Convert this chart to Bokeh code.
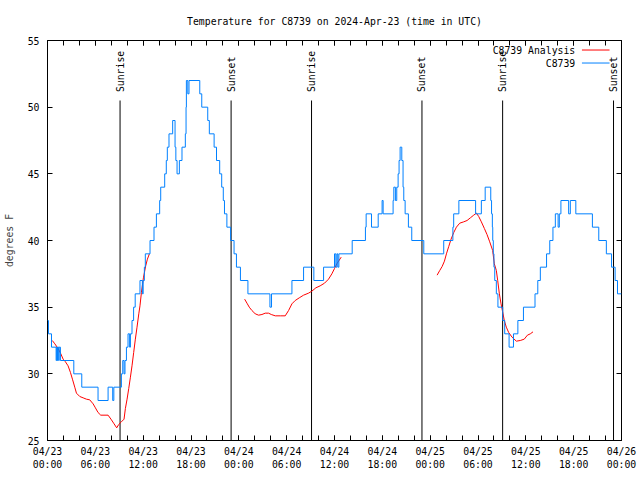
import math
from bokeh.plotting import figure
from bokeh.models import Range1d, FixedTicker, LinearAxis, Label, Arrow, CustomLabelingPolicy
from bokeh.core.properties import value
from bokeh.embed import file_html
from bokeh.resources import INLINE

TITLE = "Temperature for C8739 on 2024-Apr-23 (time in UTC)"
Y_LABEL = "degrees F"
FONT = "DejaVu Sans Mono"
FS = "9.8px"

# hours since 2024-04-23 00:00 UTC
x_ticks = [0, 6, 12, 18, 24, 30, 36, 42, 48, 54, 60, 66, 72]
x_tick_labels = ["04/23\n00:00", "04/23\n06:00", "04/23\n12:00", "04/23\n18:00",
                 "04/24\n00:00", "04/24\n06:00", "04/24\n12:00", "04/24\n18:00",
                 "04/25\n00:00", "04/25\n06:00", "04/25\n12:00", "04/25\n18:00",
                 "04/26\n00:00"]
x_minor_ticks = list(range(0, 73, 2))
y_ticks = [25, 30, 35, 40, 45, 50, 55]

sun_hours = [9.10, 23.03, 33.12, 46.97, 57.09, 71.00]
sun_labels = ["Sunrise", "Sunset", "Sunrise", "Sunset", "Sunrise", "Sunset"]

# C8739 observations (value holds from each time until the next)
obs_hours = [0.0, 0.12, 0.5, 1.08, 1.15, 1.25, 1.3, 1.41, 1.46, 1.62, 3.3, 4.3, 6.34, 7.6,
             8.18, 8.32, 9.27, 9.44, 9.6, 9.72, 9.9, 10.1, 10.3, 10.4, 10.6, 10.8, 11.0,
             11.6, 11.9, 12.0, 12.15, 12.27, 12.86, 13.36, 13.66, 14.07, 14.2, 14.7, 14.9,
             15.03, 15.24, 15.7, 16.0, 16.1, 16.25, 16.54, 16.87, 17.29, 17.38, 17.42, 17.6,
             17.75, 19.1, 19.35, 20.1, 20.3, 20.9, 21.2, 21.6, 21.85, 22.05, 22.2, 22.5,
             22.97, 23.4, 23.7, 24.2, 25.14, 27.9, 28.1, 30.66, 32.12, 33.41, 34.63, 36.0,
             36.17, 36.3, 36.42, 36.55, 38.22, 39.88, 39.97, 40.64, 41.48, 41.97, 42.1,
             43.35, 43.44, 43.64, 43.81, 43.98, 44.1, 44.23, 44.44, 44.6, 44.69, 44.86,
             45.27, 45.69, 47.2, 49.7, 50.85, 50.95, 51.6, 53.7, 54.42, 54.9, 55.6, 55.7,
             55.8, 55.85, 55.92, 56.0, 56.1, 56.3, 56.5, 57.1, 57.35, 57.9, 58.45, 59.0,
             59.7, 61.15, 61.5, 61.82, 62.6, 63.0, 63.4, 63.7, 64.05, 64.2, 64.4, 65.37,
             65.58, 66.27, 68.35, 69.15, 70.1, 70.75, 71.2, 71.5, 72.0]
obs_temp = [34, 33, 32, 31, 32, 31, 32, 31, 32, 31, 30, 29, 28, 29,
            28, 29, 30, 31, 30, 31, 32, 33, 32, 33, 34, 35, 36,
            37, 36, 37, 38, 39, 40, 41, 42, 43, 44, 45, 46,
            47, 48, 49, 47, 46, 45, 46, 47, 48, 50, 52, 51,
            52, 51, 50, 49, 48, 47, 46, 45, 44, 43, 42, 41,
            40, 39, 38, 37, 36, 35, 36, 37, 38, 37, 38, 39,
            38, 39, 38, 39, 40, 41, 42, 41, 42, 43, 42,
            43, 44, 43, 44, 45, 46, 47, 46, 44, 43, 42,
            41, 40, 39, 40, 41, 42, 43, 42, 43, 44, 43, 42,
            41, 40, 39, 38, 37, 36, 35, 34, 33, 32, 33, 34,
            35, 36, 37, 38, 39, 40, 41, 42, 41, 42, 43, 42,
            43, 42, 41, 40, 39, 38, 37, 36, 36]

# C8739 Analysis, three runs
ana1_hours = [0.6, 0.92, 1.33, 1.67, 1.96, 2.25, 2.58, 2.88, 3.13, 3.42, 3.63, 4.05, 4.47,
              4.88, 5.3, 5.72, 6.01, 6.34, 6.68, 7.6, 8.02, 8.35, 8.68, 8.93, 9.27, 9.6,
              9.77, 9.98, 10.19, 10.4, 10.6, 10.81, 11.02, 11.23, 11.45, 11.6, 11.78, 12.03,
              12.32, 12.53, 12.78]
ana1_temp = [32.5, 32.25, 31.9, 31.5, 31.1, 30.9, 30.6, 30.1, 29.6, 29.0, 28.55, 28.3, 28.2,
             28.1, 28.05, 27.75, 27.45, 27.1, 26.9, 26.9, 26.55, 26.25, 25.95, 26.2, 26.4, 26.6,
             27.4, 28.1, 28.9, 29.75, 30.6, 31.6, 32.6, 33.5, 34.5, 35.1, 36.1, 37.2,
             38.1, 38.6, 39.0]
ana2_hours = [24.73, 25.02, 25.31, 25.64, 26.06, 26.48, 26.9, 27.31, 27.73, 28.07, 28.57,
              29.2, 29.82, 30.24, 30.66, 31.07, 31.58, 32.12, 32.74, 33.16, 33.66, 34.2,
              34.75, 35.25, 35.67, 36.0, 36.29, 36.84]
ana2_temp = [35.6, 35.3, 35.0, 34.75, 34.5, 34.4, 34.45, 34.55, 34.55, 34.45, 34.35,
             34.35, 34.35, 34.75, 35.25, 35.5, 35.7, 35.9, 36.05, 36.2, 36.45, 36.6,
             36.8, 37.1, 37.5, 37.9, 38.25, 38.75]
ana3_hours = [48.87, 49.2, 49.5, 49.79, 50.04, 50.33, 50.62, 50.96, 51.29, 51.71, 52.21,
              52.63, 53.04, 53.46, 53.8, 54.09, 54.42, 54.8, 55.13, 55.47, 55.84, 56.05,
              56.3, 56.47, 56.68, 56.89, 57.14, 57.3, 57.55, 57.85, 58.27, 58.81, 59.3,
              59.8, 60.2, 60.56, 60.9]
ana3_temp = [37.4, 37.75, 38.05, 38.45, 39.0, 39.55, 40.1, 40.6, 41.0, 41.3, 41.4,
             41.5, 41.7, 41.9, 42.05, 41.8, 41.4, 40.9, 40.45, 39.9, 39.25, 38.25,
             37.75, 37.0, 36.0, 35.25, 34.5, 34.0, 33.5, 33.1, 32.75, 32.45, 32.5,
             32.6, 32.9, 33.0, 33.15]

series_names = ["C8739 Analysis", "C8739"]
series_colors = ["#ff0000", "#0080ff"]

X0, X1 = 0, 72
Y0, Y1 = 25, 55

p = figure(width=640, height=480, x_range=Range1d(X0, X1), y_range=Range1d(Y0, Y1),
           output_backend="svg", toolbar_location=None,
           x_axis_location=None, y_axis_location=None,
           min_border_left=47, min_border_right=19, min_border_top=40, min_border_bottom=40)
p.grid.visible = False
p.outline_line_color = "black"
p.outline_line_width = 1
p.background_fill_color = "white"
p.border_fill_color = "white"

p.title.text = TITLE
p.title.align = "center"
p.title.text_font = FONT
p.title.text_font_size = FS
p.title.text_font_style = "normal"
p.title.text_color = "black"
p.title.standoff = 19

NO_LABELS = "for (const i of indices) { indices.unset(i) }\nreturn indices"


def style_axis(ax, labels):
    ax.axis_line_color = None
    ax.major_tick_in = 5
    ax.major_tick_out = 0
    ax.minor_tick_in = 5
    ax.minor_tick_out = 0
    ax.major_tick_line_color = "black"
    ax.minor_tick_line_color = "black"
    ax.major_label_text_font = FONT
    ax.major_label_text_color = "black"
    if labels:
        ax.major_label_text_font_size = FS
    else:
        ax.major_label_text_font_size = "1px"
        ax.major_label_standoff = 0
        ax.major_label_policy = CustomLabelingPolicy(code=NO_LABELS)


x_labels = dict(zip(x_ticks, x_tick_labels))
for loc, lab in (("below", True), ("above", False)):
    ax = LinearAxis(ticker=FixedTicker(ticks=x_ticks, minor_ticks=x_minor_ticks))
    style_axis(ax, lab)
    if lab:
        ax.major_label_overrides = x_labels
        ax.major_label_standoff = 5
    p.add_layout(ax, loc)

for loc, lab in (("left", True), ("right", False)):
    ax = LinearAxis(ticker=FixedTicker(ticks=y_ticks, minor_ticks=[]))
    style_axis(ax, lab)
    if lab:
        ax.major_label_standoff = 8
        ax.axis_label = Y_LABEL
        ax.axis_label_text_font = FONT
        ax.axis_label_text_font_size = FS
        ax.axis_label_text_font_style = "normal"
        ax.axis_label_standoff = 10
    p.add_layout(ax, loc)

# sunrise / sunset markers
span = Y1 - Y0
p.segment(x0=sun_hours, y0=[Y0] * len(sun_hours), x1=sun_hours,
          y1=[Y0 + 0.85 * span] * len(sun_hours), line_color="black", line_width=1)
p.text(x=sun_hours, y=[Y0 + 0.871 * span] * len(sun_hours), text=sun_labels,
       angle=math.pi / 2, text_align="left", text_baseline="middle",
       text_font=value(FONT), text_font_size=FS, text_color="black")

# data
for hrs, tmp in ((ana1_hours, ana1_temp), (ana2_hours, ana2_temp), (ana3_hours, ana3_temp)):
    p.line(hrs, tmp, line_color=series_colors[0], line_width=1)
p.step(obs_hours, obs_temp, mode="after", line_color=series_colors[1], line_width=1)

# gnuplot-style key: text right-aligned, sample line to its right
key_text_x = X0 + 0.9194 * (X1 - X0)
key_line_x0 = X0 + 0.9311 * (X1 - X0)
key_line_x1 = X0 + 0.9792 * (X1 - X0)
for i, (name, col) in enumerate(zip(series_names, series_colors)):
    ky = Y1 - (0.0238 + 0.0325 * i) * span
    p.add_layout(Label(x=key_text_x, y=ky, text=name, text_align="right",
                       text_baseline="middle", text_font=FONT, text_font_size=FS,
                       text_color="black"))
    p.add_layout(Arrow(end=None, x_start=key_line_x0, y_start=ky, x_end=key_line_x1,
                       y_end=ky, line_color=col, line_width=1))

open("out.html", "w").write(file_html(p, INLINE))
